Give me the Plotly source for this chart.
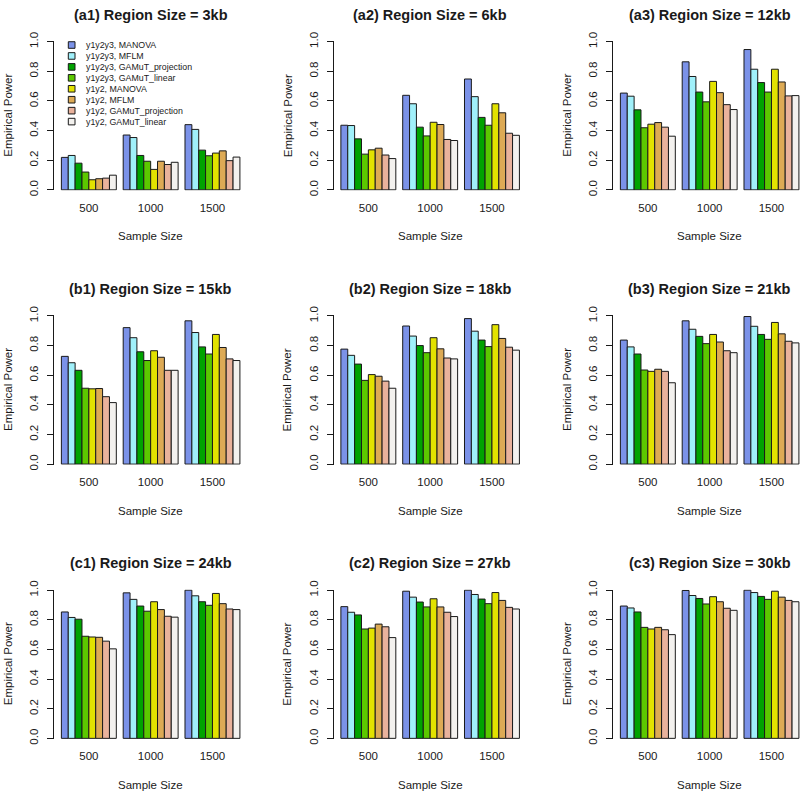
import plotly.graph_objects as go

# ---------------- data ----------------
sample_sizes = ["500", "1000", "1500"]
series_names = [
    "y1y2y3, MANOVA", "y1y2y3, MFLM", "y1y2y3, GAMuT_projection", "y1y2y3, GAMuT_linear",
    "y1y2, MANOVA", "y1y2, MFLM", "y1y2, GAMuT_projection", "y1y2, GAMuT_linear",
]
series_colors = ["#7B92E8", "#A0F0FA", "#00A300", "#5CC800",
                 "#E2E200", "#DDAA55", "#E9B29C", "#F3F1EE"]
panel_titles = [
    "(a1) Region Size = 3kb", "(a2) Region Size = 6kb", "(a3) Region Size = 12kb",
    "(b1) Region Size = 15kb", "(b2) Region Size = 18kb", "(b3) Region Size = 21kb",
    "(c1) Region Size = 24kb", "(c2) Region Size = 27kb", "(c3) Region Size = 30kb",
]
y_ticks = [0.0, 0.2, 0.4, 0.6, 0.8, 1.0]
x_title = "Sample Size"
y_title = "Empirical Power"

# each row: one series, values for sample sizes 500, 1000, 1500
power_a1 = [[0.219, 0.370, 0.440], [0.232, 0.353, 0.408], [0.180, 0.232, 0.268], [0.120, 0.193, 0.230],
            [0.068, 0.138, 0.248], [0.075, 0.193, 0.263], [0.079, 0.171, 0.197], [0.099, 0.186, 0.221]]
power_a2 = [[0.436, 0.638, 0.748], [0.434, 0.581, 0.629], [0.344, 0.423, 0.489], [0.241, 0.364, 0.436],
            [0.270, 0.456, 0.581], [0.281, 0.441, 0.520], [0.235, 0.340, 0.382], [0.211, 0.333, 0.368]]
power_a3 = [[0.653, 0.864, 0.947], [0.632, 0.765, 0.814], [0.540, 0.660, 0.724], [0.419, 0.594, 0.660],
            [0.443, 0.732, 0.814], [0.454, 0.656, 0.728], [0.423, 0.575, 0.634], [0.362, 0.542, 0.636]]
power_b1 = [[0.727, 0.921, 0.967], [0.684, 0.853, 0.888], [0.633, 0.758, 0.791], [0.512, 0.699, 0.743],
            [0.508, 0.765, 0.875], [0.510, 0.721, 0.787], [0.455, 0.633, 0.710], [0.415, 0.633, 0.699]]
power_b2 = [[0.776, 0.932, 0.982], [0.734, 0.864, 0.897], [0.675, 0.800, 0.837], [0.565, 0.752, 0.793],
            [0.604, 0.853, 0.941], [0.593, 0.778, 0.848], [0.560, 0.716, 0.789], [0.512, 0.710, 0.769]]
power_b3 = [[0.837, 0.967, 0.996], [0.791, 0.910, 0.930], [0.743, 0.862, 0.875], [0.635, 0.813, 0.842],
            [0.626, 0.875, 0.956], [0.640, 0.824, 0.879], [0.626, 0.765, 0.829], [0.549, 0.752, 0.818]]
power_c1 = [[0.853, 0.982, 1.000], [0.816, 0.938, 0.962], [0.804, 0.893, 0.922], [0.689, 0.858, 0.898],
            [0.684, 0.922, 0.978], [0.682, 0.869, 0.909], [0.656, 0.824, 0.873], [0.604, 0.818, 0.869]]
power_c2 = [[0.889, 0.993, 1.000], [0.851, 0.953, 0.971], [0.833, 0.920, 0.940], [0.738, 0.887, 0.909],
            [0.744, 0.942, 0.984], [0.771, 0.887, 0.931], [0.753, 0.851, 0.884], [0.680, 0.822, 0.873]]
power_c3 = [[0.893, 0.998, 1.000], [0.880, 0.964, 0.984], [0.853, 0.944, 0.958], [0.749, 0.907, 0.938],
            [0.738, 0.956, 0.993], [0.749, 0.922, 0.953], [0.733, 0.878, 0.931], [0.700, 0.864, 0.922]]

panels = [power_a1, power_a2, power_a3, power_b1, power_b2, power_b3, power_c1, power_c2, power_c3]

# ---------------- layout geometry (pixels) ----------------
W, H = 800, 799
FONT = "Liberation Sans, Arial, Helvetica, sans-serif"
INK = "#1a1a1a"
col_left = [54 + 279.5 * c for c in range(3)]     # pixel of y-axis line
row_top = [33.3 + 279.5 * r for r in range(3)]    # pixel of y = 1.0
unit_px = 61.8                                    # px per sample-size category
x_lo = -0.564
plot_w = 3.128 * unit_px
y_px = 151.0                                      # px per unit of power
pad = 0.004

fig = go.Figure()
layout = dict(
    width=W, height=H,
    margin=dict(l=0, r=0, t=0, b=0),
    paper_bgcolor="white", plot_bgcolor="white",
    barmode="group", bargap=1 / 9, bargroupgap=0,
    showlegend=False, hovermode=False,
    font=dict(family=FONT, color=INK),
)
annotations = []
shapes = []

for p, data in enumerate(panels):
    r, c = divmod(p, 3)
    idx = p + 1
    xa = "x" if idx == 1 else f"x{idx}"
    ya = "y" if idx == 1 else f"y{idx}"
    for s, name in enumerate(series_names):
        fig.add_trace(go.Bar(
            x=sample_sizes, y=data[s], name=name,
            marker=dict(color=series_colors[s], line=dict(color=INK, width=1)),
            xaxis=xa, yaxis=ya, showlegend=False,
        ))
    left = col_left[c]
    right = min(left + plot_w, W)
    top_px = row_top[r] - pad * y_px
    bot_px = row_top[r] + (1 + pad) * y_px
    layout["xaxis" if idx == 1 else f"xaxis{idx}"] = dict(
        domain=[left / W, right / W], type="category",
        range=[x_lo, x_lo + (right - left) / unit_px],
        showline=False, showgrid=False, zeroline=False, ticks="",
        tickfont=dict(size=11.5, family=FONT, color=INK),
        ticklabelstandoff=9, anchor=ya, fixedrange=True,
    )
    layout["yaxis" if idx == 1 else f"yaxis{idx}"] = dict(
        domain=[1 - bot_px / H, 1 - top_px / H],
        range=[-pad, 1 + pad],
        tickvals=y_ticks, ticktext=[f"{v:.1f}" for v in y_ticks],
        tickangle=-90, ticks="outside", ticklen=6, tickcolor=INK, tickwidth=1,
        showline=True, linecolor=INK, linewidth=1,
        showgrid=False, zeroline=False,
        tickfont=dict(size=11.5, family=FONT, color=INK),
        ticklabelstandoff=4, anchor=xa, fixedrange=True,
    )
    cx = left + plot_w / 2
    # panel title
    annotations.append(dict(
        text=f"<b>{panel_titles[p]}</b>", x=cx / W, y=1 - (6 + 279.5 * r) / H,
        xref="paper", yref="paper", showarrow=False, xanchor="center", yanchor="middle",
        font=dict(size=14.5, family=FONT, color=INK)))
    # x title
    annotations.append(dict(
        text=x_title, x=cx / W, y=1 - (231.7 + 279.5 * r) / H,
        xref="paper", yref="paper", showarrow=False, xanchor="center", yanchor="middle",
        font=dict(size=11.5, family=FONT, color=INK)))
    # y title
    annotations.append(dict(
        text=y_title, x=(left - 46) / W, y=1 - (row_top[r] + 0.5 * y_px) / H,
        xref="paper", yref="paper", showarrow=False, textangle=-90,
        xanchor="center", yanchor="middle",
        font=dict(size=11.5, family=FONT, color=INK)))

# manual legend inside panel a1
for s, name in enumerate(series_names):
    cy = 36.7 + 11.15 * s
    shapes.append(dict(
        type="rect", xref="paper", yref="paper",
        x0=68.3 / W, x1=75.0 / W, y0=1 - (cy + 3.35) / H, y1=1 - (cy - 3.35) / H,
        fillcolor=series_colors[s], line=dict(color=INK, width=1)))
    annotations.append(dict(
        text=name, x=83.5 / W, y=1 - cy / H, xref="paper", yref="paper",
        showarrow=False, xanchor="left", yanchor="middle",
        font=dict(size=8.8, family=FONT, color=INK)))

layout["annotations"] = annotations
layout["shapes"] = shapes
fig.update_layout(**layout)
fig.write_html(
    "out.html",
    config={"displayModeBar": False, "staticPlot": True},
    post_script="document.body.style.margin='0';document.body.style.padding='0';"
                "document.body.style.overflow='hidden';",
)
